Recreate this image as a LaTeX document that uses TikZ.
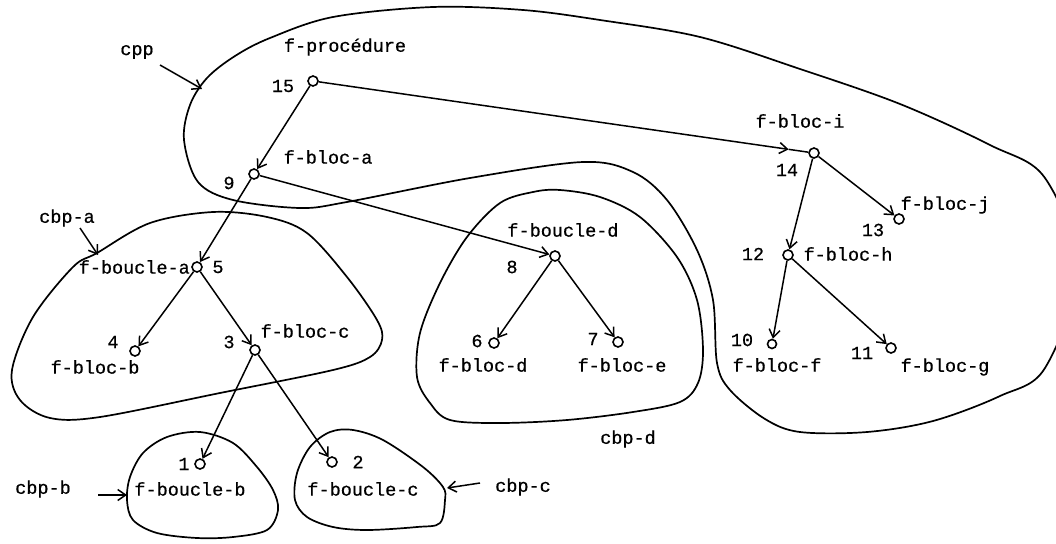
\documentclass[tikz,border=0pt]{standalone}
\usepackage{fontspec}
\newfontfamily\tw[FakeBold=0.6]{Liberation Mono}
\usetikzlibrary{arrows.meta}
\begin{document}
\begin{tikzpicture}[x=1pt,y=-1pt,
  vtx/.style={circle,draw,line width=1.6pt,inner sep=0pt,minimum size=10pt},
  lbl/.style={font=\tw\fontsize{18.5}{20}\selectfont,inner sep=0pt},
  edge/.style={line width=1.5pt,-{Straight Barb[length=8pt,width=11pt,line width=1.5pt]}},
  blob/.style={line width=1.7pt},
]
\useasboundingbox (0,0) rectangle (1056,543);
\fill[white] (0,0) rectangle (1056,543);

% contours
\draw[blob] plot[smooth cycle,tension=0.55] coordinates {
 (184,140) (190,105) (207,78) (235,56) (270,38) (333,17) (433,7) (523,10) (600,20) (700,37)
 (800,69) (900,104) (990,145) (1045,178) (1078,270) (1045,368) (1000,396) (933,421)
 (867,432) (800,432) (765,419) (730,390) (717,363) (713,300) (697,250) (667,200)
 (633,172) (583,162) (470,178) (347,202) (300,208) (233,200) (198,182)};
\draw[blob] plot[smooth cycle,tension=0.55] coordinates {
 (97,253) (150,223) (213,212) (267,217) (307,233) (347,277) (377,320) (382,340)
 (370,357) (333,370) (220,393) (100,417) (50,418) (20,400) (12,370) (33,317) (73,267)};
\draw[blob] plot[smooth cycle,tension=0.55] coordinates {
 (200,432) (167,437) (143,453) (130,477) (127,500) (133,520) (157,533) (197,538)
 (233,537) (267,530) (278,510) (273,490) (257,467) (233,443)};
\draw[blob] plot[smooth cycle,tension=0.55] coordinates {
 (330,432) (310,447) (297,473) (295,500) (307,517) (333,527) (367,530) (417,527)
 (440,523) (445,500) (443,487) (423,467) (383,440) (353,430)};
\draw[blob] plot[smooth cycle,tension=0.55] coordinates {
 (533,192) (500,203) (467,237) (440,283) (420,333) (417,377) (430,403) (450,420)
 (500,423) (567,420) (633,412) (680,402) (698,383) (703,350) (697,300) (677,257)
 (640,217) (600,197) (560,190)};

% vertices
\node[vtx] (v15) at (313,81) {};
\node[vtx] (v9) at (254,174) {};
\node[vtx] (v5) at (197,267) {};
\node[vtx] (v4) at (135,351) {};
\node[vtx] (v3) at (255,350) {};
\node[vtx] (v1) at (200,464) {};
\node[vtx] (v2) at (332,462) {};
\node[vtx] (v8) at (555,256) {};
\node[vtx] (v6) at (494,343) {};
\node[vtx] (v7) at (618,342) {};
\node[vtx] (v14) at (814,153) {};
\node[vtx] (v13) at (899,219) {};
\node[vtx] (v12) at (788,255) {};
\node[vtx,minimum size=9pt] (v10) at (772,344) {};
\node[vtx] (v11) at (891,348) {};

% labels
\node[lbl] (cpp) at (137,52) {cpp};
\node[lbl] (lproc) at (345,47) {f-procédure};
\node[lbl] (n15) at (283,86) {15};
\node[lbl] (lba) at (328,157) {f-bloc-a};
\node[lbl] (n9) at (229,183) {9};
\node[lbl] (cbpa) at (67,218) {cbp-a};
\node[lbl,anchor=east] (lbca) at (190,267) {f-boucle-a};
\node[lbl] (n5) at (218,267) {5};
\node[lbl] (n4) at (113,342) {4};
\node[lbl] (lbb) at (95,367) {f-bloc-b};
\node[lbl] (n3) at (229,342) {3};
\node[lbl] (lbc) at (305,331) {f-bloc-c};
\node[lbl] (n1) at (184,464) {1};
\node[lbl] (n2) at (358,462) {2};
\node[lbl] (lbcb) at (190,489) {f-boucle-b};
\node[lbl] (lbcc) at (363,489) {f-boucle-c};
\node[lbl] (cbpb) at (43,489) {cbp-b};
\node[lbl] (cbpc) at (523,487) {cbp-c};
\node[lbl] (lbcd) at (563,230) {f-boucle-d};
\node[lbl] (n8) at (512,267) {8};
\node[lbl] (n6) at (477,341) {6};
\node[lbl] (lbd) at (483,365) {f-bloc-d};
\node[lbl] (n7) at (593,339) {7};
\node[lbl] (lbe) at (622,365) {f-bloc-e};
\node[lbl] (cbpd) at (628,439) {cbp-d};
\node[lbl] (lbi) at (800,121) {f-bloc-i};
\node[lbl] (n14) at (787,170) {14};
\node[lbl] (lbj) at (945,205) {f-bloc-j};
\node[lbl] (n13) at (873,230) {13};
\node[lbl] (lbh) at (848,254) {f-bloc-h};
\node[lbl] (n12) at (753,254) {12};
\node[lbl] (lbf) at (777,365) {f-bloc-f};
\node[lbl] (n10) at (742,340) {10};
\node[lbl] (lbg) at (945,367) {f-bloc-g};
\node[lbl] (n11) at (862,353) {11};

% tree edges
\draw[edge] (v15) -- (v9);
\path (v15) -- (v14) coordinate[pos=0.96] (t14);
\draw[edge] (v15) -- (t14);
\draw[line width=1.5pt] (t14) -- (v14);
\draw[edge] (v9) -- (v5);
\draw[edge] (v9) -- (v8);
\draw[edge] (v5) -- (v4);
\draw[edge] (v5) -- (v3);
\draw[edge] (v3) -- (v1);
\draw[edge] (v3) -- (v2);
\draw[edge] (v8) -- (v6);
\draw[edge] (v8) -- (v7);
\draw[edge] (v14) -- (v12);
\draw[edge] (v14) -- (v13);
\draw[edge] (v12) -- (v10);
\draw[edge] (v12) -- (v11);

% pointers to contours
\coordinate (cppS) at (160,65);  \coordinate (cppT) at (202,89);
\coordinate (caS) at (80,228);   \coordinate (caT) at (98,255);
\coordinate (cbS) at (98,495);   \coordinate (cbT) at (127,495);
\coordinate (ccS) at (480,483);  \coordinate (ccT) at (447,488);
\draw[edge] (cppS) -- (cppT);
\draw[edge] (caS) -- (caT);
\draw[edge] (cbS) -- (cbT);
\draw[edge] (ccS) -- (ccT);
\end{tikzpicture}
\end{document}
